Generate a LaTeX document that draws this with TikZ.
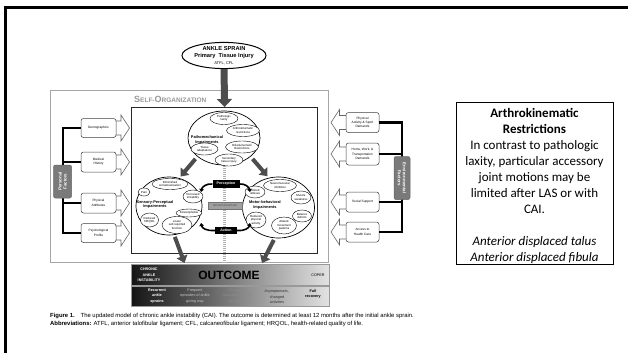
\documentclass[tikz,border=0pt]{standalone}
\usepackage{fontspec}
\setmainfont{Liberation Sans}
\newfontfamily\notefont{Carlito}
\usetikzlibrary{arrows.meta,shapes.geometric}

\definecolor{shaftgray}{HTML}{4D4D4D}
\definecolor{panelgray}{HTML}{A6A6A6}
\definecolor{factorfill}{HTML}{7A7A7A}
\definecolor{titlegray}{HTML}{999999}
\definecolor{neurofill}{HTML}{A0A0A0}
\definecolor{trackgray}{HTML}{B0B0B0}
\pgfdeclarehorizontalshading{outcomeshade}{100bp}{color(0bp)=(black); color(20bp)=(black); color(82bp)=(white); color(100bp)=(white)}

\tikzset{
  region/.style={draw, ellipse, line width=0.7pt, fill=white, inner sep=0pt},
  subitem/.style={draw, ellipse, line width=0.4pt, fill=white, inner sep=0pt, align=center, font=\fontsize{2.9}{3.3}\selectfont},
  heading/.style={inner sep=0pt, align=center, font=\fontsize{3.9}{4.3}\selectfont\bfseries},
  factor/.style={draw=black!75, line width=0.5pt, rounded corners=2.5pt, fill=white, inner sep=0pt, align=center, font=\fontsize{3.2}{4.3}\selectfont, minimum height=19pt},
  groupbox/.style={draw=black!60, line width=0.5pt, rounded corners=2pt, fill=factorfill, text=white, inner sep=0pt, align=center, font=\fontsize{4.4}{5}\selectfont\bfseries, rotate=#1},
  bracket/.style={line width=2.2pt, black},
  flow/.style={draw=shaftgray, line width=4pt, -{Triangle[length=7pt,width=11pt]}},
  cyc/.style={line width=1.6pt, black, -{Triangle[length=3pt,width=4.5pt]}},
  hollow/.style={draw=black!60, line width=0.6pt, fill=white, line join=miter},
  tag/.style={fill=black, text=white, inner sep=0pt, font=\fontsize{3.6}{4}\selectfont\bfseries, minimum height=8pt},
  lowtext/.style={inner sep=0pt, align=center, font=\fontsize{3.75}{5.4}\selectfont},
  bandrow/.style={shade, shading=outcomeshade, draw=black!40, line width=0.4pt, inner sep=0pt, minimum width=198pt, anchor=north west},
  captext/.style={anchor=west, inner sep=0pt, font=\fontsize{5.9}{7}\selectfont},
}

% hollow block arrow pointing right, centred at height #1
\newcommand{\pushright}[1]{%
  \draw[hollow] (100,#1-7) -- (121,#1-7) -- (121,#1-13) -- (129.5,#1) -- (121,#1+13) -- (121,#1+7) -- (100,#1+7) -- cycle;}
% hollow block arrow pointing left, centred at height #1
\newcommand{\pushleft}[1]{%
  \draw[hollow] (362,#1-7) -- (339.5,#1-7) -- (339.5,#1-13) -- (331,#1) -- (339.5,#1+13) -- (339.5,#1+7) -- (362,#1+7) -- cycle;}

\begin{document}
\begin{tikzpicture}[x=1pt,y=-1pt]
\useasboundingbox (0,0) rectangle (628,353);
\fill[white] (0,0) rectangle (628,353);

% slide frame
\draw[line width=3pt] (4,7.5) -- (628,7.5);
\draw[line width=2.5pt] (5.5,6) -- (5.5,353);

% self-organization panel and core box
\node[draw=panelgray, line width=1.2pt, minimum width=278pt, minimum height=172pt, anchor=north west] (panel) at (50,90) {};
\node[anchor=west, text=titlegray, inner sep=0pt, font=\bfseries] (selforg) at (134,99)
  {{\fontsize{9}{9}\selectfont S}{\fontsize{6.5}{9}\selectfont ELF-}{\fontsize{9}{9}\selectfont O}{\fontsize{6.5}{9}\selectfont RGANIZATION}};
\node[draw=black!85, line width=1.2pt, minimum width=186pt, minimum height=146pt, anchor=north west] (core) at (131,107) {};

% ankle sprain
\node[draw, ellipse, line width=1pt, fill=white, minimum width=72pt, minimum height=25pt, inner sep=0pt, align=center,
      font=\fontsize{5.7}{7}\selectfont] (sprain) at (224,55.5)
  {\textbf{ANKLE SPRAIN}\\\textbf{Primary\ \ Tissue Injury}\\{\fontsize{4}{7}\selectfont ATFL, CFL}};
\draw[draw=shaftgray, line width=7pt, -{Triangle[length=8pt,width=15pt]}] (sprain.south) -- (core.north);

% neurosignature track
\coordinate (trackTop) at (224.5,166);
\coordinate (trackEnd) at (224.5,264);
\draw[trackgray, line width=2.4pt, dash pattern=on 1.2pt off 0.8pt] (trackTop) -- (trackEnd);

% impairment regions
\node[region, minimum width=72pt, minimum height=54pt] (patho) at (224,138) {};
\node[region, minimum width=66pt, minimum height=58pt] (sensory) at (169,206) {};
\node[region, minimum width=72pt, minimum height=61pt] (motor) at (278.5,207.5) {};

% pathomechanical
\node[subitem, minimum width=28pt, minimum height=12pt] (laxity) at (224,118.5) {Pathologic\\laxity};
\node[subitem, minimum width=33pt, minimum height=12pt] (arthro) at (243,130.5) {Arthrokinematic\\restrictions};
\node[heading] (pmlabel) at (207,140) {Pathomechanical\\Impairments};
\node[subitem, minimum width=27pt, minimum height=12pt] (tissue) at (204.5,149) {Tissue\\adaptations};
\node[subitem, minimum width=33pt, minimum height=12pt] (osteo) at (242,147) {Osteokinematic\\Restrictions};
\node[subitem, minimum width=28pt, minimum height=12pt] (second) at (229,160) {Secondary\\tissue injury};

% sensory-perceptual
\node[subitem, minimum width=36pt, minimum height=11pt] (somato) at (170,184) {Diminished\\somatosensation};
\node[subitem, minimum width=12pt, minimum height=8pt] (pain) at (144,192) {Pain};
\node[subitem, minimum width=20pt, minimum height=13pt] (perceived) at (193,196.5) {Perceived\\instability};
\node[heading] (splabel) at (155,204.5) {Sensory-Perceptual\\Impairments};
\node[subitem, minimum width=26pt, minimum height=8pt] (kinesio) at (189,213) {Kinesiophobia};
\node[subitem, minimum width=18pt, minimum height=14pt] (hrqol) at (149.5,220) {Reduced\\HRQOL};
\node[subitem, minimum width=30pt, minimum height=17pt] (lower) at (177,225) {Lower\\self-reported\\function};

% motor-behavioral
\node[subitem, minimum width=20pt, minimum height=12pt] (reflex) at (255,192) {Altered\\reflexes};
\node[subitem, minimum width=33pt, minimum height=12pt] (inhib) at (280,185.5) {Neuromuscular\\inhibition};
\node[subitem, minimum width=20pt, minimum height=13pt] (weak) at (301,197.5) {Muscle\\weakness};
\node[heading] (mblabel) at (265,205) {Motor-behavioral\\Impairments};
\node[subitem, minimum width=19pt, minimum height=12pt] (balance) at (302,216) {Balance\\deficits};
\node[subitem, minimum width=20pt, minimum height=16pt] (activity) at (256,220) {Reduced\\physical\\activity};
\node[subitem, minimum width=25pt, minimum height=17pt] (pattern) at (284,225.5) {Altered\\movement\\patterns};

% perception-action cycle
\node[tag, minimum width=27pt] (perc) at (226,184) {Perception};
\node[fill=neurofill, draw=black!55, line width=0.4pt, inner sep=0pt, minimum width=34pt, minimum height=6.5pt,
      font=\fontsize{2.6}{3}\selectfont, text=black!70] (neuro) at (225,205.5) {NEUROSIGNATURE};
\node[tag, minimum width=22pt, minimum height=7pt] (act) at (226,230.5) {Action};
\coordinate (cycTR) at (250,192);
\coordinate (cycTL) at (201,192);
\coordinate (cycBR) at (250,223);
\coordinate (cycBL) at (201,223);
\draw[cyc] (perc.east) .. controls (245,183.5) and (249,187) .. (cycTR);
\draw[cyc] (act.west) .. controls (206,231) and (202,228) .. (cycBL);
\draw[cyc] (act.east) .. controls (245,231) and (249,228) .. (cycBR);
\draw[cyc] (perc.west) .. controls (206,183.5) and (202,187) .. (cycTL);

% outcome band
\node[bandrow, minimum height=21pt] (outtop) at (131,264) {};
\node[bandrow, minimum height=20pt] (outbot) at (131,286) {};
\coordinate (inL) at (184.5,263);
\coordinate (inR) at (262,263);

% flows between regions
\draw[flow, shorten <=3pt, shorten >=2pt] (patho.215) -- (sensory.70);
\draw[flow, shorten <=3pt, shorten >=2pt] (patho.325) -- (motor.108);
\draw[flow, shorten <=2pt] (sensory.-80) -- (inL);
\draw[flow, shorten <=2pt] (motor.-97) -- (inR);

% outcome labels
\node[text=white, inner sep=0pt, font=\fontsize{3.7}{5.6}\selectfont\bfseries, align=center] (cai) at (149,275) {CHRONIC\\ANKLE\\INSTABILITY};
\node[inner sep=0pt, font=\fontsize{12}{12}\selectfont\bfseries] (outlabel) at (229,275.5) {OUTCOME};
\node[inner sep=0pt, font=\fontsize{3.7}{4}\selectfont] (coper) at (318,275) {COPER};
\node[lowtext, text=white, font=\fontsize{3.75}{5.4}\selectfont\bfseries] (recurrent) at (157,296) {Recurrent\\ankle\\sprains};
\node[lowtext, text=black!22] (frequent) at (195,296) {Frequent\\episodes of ankle\\giving way};
\node[lowtext, text=black!45] (occasional) at (238,296) {Occasional\\episodes of ankle\\giving way};
\node[lowtext, text=black!80] (asym) at (277,297) {Asymptomatic,\\changed\\activities};
\node[lowtext, font=\fontsize{3.75}{5.4}\selectfont\bfseries] (full) at (313,294) {Full\\recovery};

% personal factors
\pushright{128}
\pushright{162}
\pushright{203}
\pushright{233}
\node[factor, minimum width=35pt] (demo) at (98.5,128) {Demographics};
\node[factor, minimum width=35pt, minimum height=20pt] (medical) at (98.5,162) {Medical\\History};
\node[factor, minimum width=35pt, minimum height=20pt] (physattr) at (98.5,203) {Physical\\Attributes};
\node[factor, minimum width=35pt] (psych) at (98.5,233) {Psychological\\Profile};
\coordinate (lbar) at (63,0);
\draw[bracket] (demo.west) -- (demo.west -| lbar) -- (psych.west -| lbar) -- (psych.west);
\draw[bracket] (medical.west) -- (medical.west -| lbar);
\draw[bracket] (physattr.west) -- (physattr.west -| lbar);
\node[groupbox=90, minimum width=33pt, minimum height=18pt] (personal) at (62.5,181.5) {Personal\\Factors};

% environmental factors
\pushleft{122.5}
\pushleft{154}
\pushleft{202}
\pushleft{232}
\node[factor, minimum width=33pt, minimum height=20pt] (sport) at (362.5,122.5) {Physical\\Activity \& Sport\\Demands};
\node[factor, minimum width=33pt, minimum height=22pt] (home) at (362.5,154) {Home, Work, \&\\Transportation\\Demands};
\node[factor, minimum width=33pt, minimum height=20pt] (social) at (362.5,202) {Social Support};
\node[factor, minimum width=33pt, minimum height=20pt] (access) at (362.5,232) {Access to\\Health Care};
\coordinate (rbar) at (402,0);
\draw[bracket] (sport.east) -- (sport.east -| rbar) -- (access.east -| rbar) -- (access.east);
\draw[bracket] (home.east) -- (home.east -| rbar);
\draw[bracket] (social.east) -- (social.east -| rbar);
\node[groupbox=-90, minimum width=43pt, minimum height=16pt] (environ) at (402,178) {Environmental\\Factors};

% caption
\node[captext] (cap1) at (50,316)
  {\textbf{Figure 1.}\quad The updated model of chronic ankle instability (CAI). The outcome is determined at least 12 months after the initial ankle sprain.};
\node[captext] (cap2) at (50,323.5)
  {\textbf{Abbreviations:} ATFL, anterior talofibular ligament; CFL, calcaneofibular ligament; HRQOL, health-related quality of life.};

% note box
\node[draw, line width=0.9pt, minimum width=157pt, minimum height=162pt, anchor=north west] (notebox) at (456,102) {};
\node[anchor=north, inner sep=0pt, align=center, font=\notefont\fontsize{13}{16}\selectfont] (notetext) at (534.5,108)
  {\textbf{Arthrokinematic}\\\textbf{Restrictions}\\In contrast to pathologic\\laxity, particular accessory\\joint motions may be\\limited after LAS or with\\CAI.\\[16pt]\textit{Anterior displaced talus}\\\textit{Anterior displaced fibula}};
\end{tikzpicture}
\end{document}
